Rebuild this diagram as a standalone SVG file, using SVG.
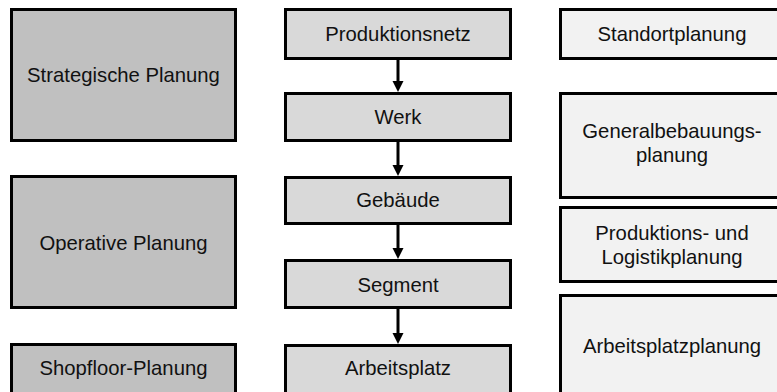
<svg xmlns="http://www.w3.org/2000/svg" width="777" height="392" viewBox="0 0 777 392">
<defs>
<style>
.box{stroke:#000;stroke-width:3}
.l{fill:#c0c0c0}
.c{fill:#d9d9d9}
.r{fill:#f2f2f2}
text{font-family:"Liberation Sans",Arial,sans-serif;font-size:20.3px;fill:#111;text-anchor:middle}
.conn line{stroke:#000;stroke-width:3}
.conn polygon{fill:#000}
</style>
</defs>
<rect width="777" height="392" fill="#fff"/>
<g id="strategische">
<rect class="box l" x="11.5" y="9.5" width="224" height="131"/>
<text x="123.5" y="82">Strategische Planung</text>
</g>
<g id="operative">
<rect class="box l" x="11.5" y="176.5" width="224" height="131"/>
<text x="123.5" y="250">Operative Planung</text>
</g>
<g id="shopfloor">
<rect class="box l" x="11.5" y="344.5" width="224" height="100"/>
<text x="123.5" y="375">Shopfloor-Planung</text>
</g>
<g id="produktionsnetz">
<rect class="box c" x="285.5" y="9.5" width="225" height="49"/>
<text x="398" y="41">Produktionsnetz</text>
</g>
<g id="werk">
<rect class="box c" x="285.5" y="93.5" width="225" height="47"/>
<text x="398" y="124">Werk</text>
</g>
<g id="gebaeude">
<rect class="box c" x="285.5" y="177.5" width="225" height="46"/>
<text x="398" y="207">Gebäude</text>
</g>
<g id="segment">
<rect class="box c" x="285.5" y="260.5" width="225" height="47"/>
<text x="398" y="292">Segment</text>
</g>
<g id="arbeitsplatz">
<rect class="box c" x="285.5" y="345.5" width="225" height="100"/>
<text x="398" y="375">Arbeitsplatz</text>
</g>
<g id="standortplanung">
<rect class="box r" x="560.5" y="9.5" width="300" height="49"/>
<text x="672" y="41">Standortplanung</text>
</g>
<g id="generalbebauungsplanung">
<rect class="box r" x="560.5" y="93.5" width="300" height="104"/>
<text x="672" y="138">Generalbebauungs-</text>
<text x="672" y="162">planung</text>
</g>
<g id="produktionslogistik">
<rect class="box r" x="560.5" y="207.5" width="300" height="74"/>
<text x="672" y="240">Produktions- und</text>
<text x="672" y="264">Logistikplanung</text>
</g>
<g id="arbeitsplatzplanung">
<rect class="box r" x="560.5" y="295.5" width="300" height="150"/>
<text x="672" y="353">Arbeitsplatzplanung</text>
</g>
<g id="connectors" class="conn">
<line x1="398" y1="60" x2="398" y2="83"/>
<polygon points="392.5,81 403.5,81 398,92"/>
<line x1="398" y1="142" x2="398" y2="167"/>
<polygon points="392.5,165 403.5,165 398,176"/>
<line x1="398" y1="225" x2="398" y2="250"/>
<polygon points="392.5,248 403.5,248 398,259"/>
<line x1="398" y1="309" x2="398" y2="335"/>
<polygon points="392.5,333 403.5,333 398,344"/>
</g>
</svg>
